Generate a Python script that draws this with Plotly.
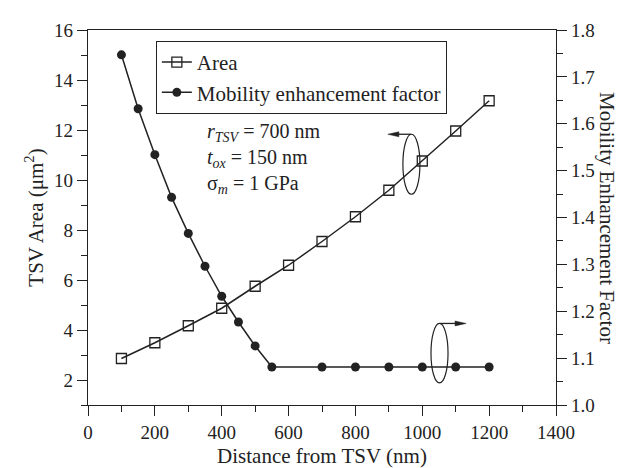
import plotly.graph_objects as go

# distance from TSV (nm)
area_x = [100, 200, 300, 400, 500, 600, 700, 800, 900, 1000, 1100, 1200]
area_y = [2.86, 3.49, 4.17, 4.87, 5.75, 6.59, 7.54, 8.53, 9.59, 10.76, 11.96, 13.17]

mob_x = [100, 150, 200, 250, 300, 350, 400, 450, 500, 550, 700, 800, 900, 1000, 1100, 1200]
mob_y = [1.747, 1.632, 1.534, 1.443, 1.366, 1.296, 1.232, 1.177, 1.126, 1.081,
         1.081, 1.081, 1.081, 1.081, 1.081, 1.081]

params = ["<i>r</i><sub><i>TSV</i></sub> = 700 nm",
          "<i>t</i><sub><i>ox</i></sub> = 150 nm",
          "σ<sub><i>m</i></sub> = 1 GPa"]

FONT = "Liberation Serif"
ink = "#222"

fig = go.Figure()
fig.add_trace(go.Scatter(x=area_x, y=area_y, name="Area", mode="lines+markers",
                         line=dict(color=ink, width=1.5),
                         marker=dict(symbol="square-open", size=10, color=ink,
                                     line=dict(width=1.3))))
fig.add_trace(go.Scatter(x=mob_x, y=mob_y, name="Mobility enhancement factor",
                         mode="lines+markers", yaxis="y2",
                         line=dict(color=ink, width=1.5),
                         marker=dict(symbol="circle", size=9, color=ink)))

axis_common = dict(showline=True, linecolor=ink, linewidth=1.2, ticks="outside",
                   tickcolor=ink, tickwidth=1.2, ticklen=10, showgrid=False,
                   zeroline=False, tickfont=dict(size=19, color=ink))

fig.update_layout(
    width=623, height=468,
    margin=dict(l=80, r=75, t=14, b=70),
    paper_bgcolor="white", plot_bgcolor="white",
    font=dict(family=FONT, color=ink, size=21),
    xaxis=dict(range=[0, 1400], dtick=200, mirror=True,
               minor=dict(dtick=100, ticks="outside", ticklen=6, tickcolor=ink),
               title=dict(text="Distance from TSV (nm)", font=dict(size=21), standoff=6),
               **axis_common),
    yaxis=dict(range=[1, 16], dtick=2, tick0=0,
               minor=dict(dtick=1, ticks="outside", ticklen=6, tickcolor=ink),
               title=dict(text="TSV Area (μm<sup>2</sup>)", font=dict(size=21), standoff=4),
               **axis_common),
    yaxis2=dict(range=[1.0, 1.8], dtick=0.1, tick0=1.0, overlaying="y", side="right",
                tickformat=".1f",
                minor=dict(dtick=0.05, ticks="outside", ticklen=6, tickcolor=ink),
                **axis_common),
    legend=dict(x=0.145, y=0.971, xanchor="left", yanchor="top",
                bordercolor=ink, borderwidth=1, bgcolor="white",
                font=dict(size=21), tracegroupgap=0),
    showlegend=True,
)

# right axis title, reads top to bottom
fig.add_annotation(text="Mobility Enhancement Factor", textangle=90,
                   xref="paper", yref="paper", x=1.14, y=0.5,
                   showarrow=False, font=dict(size=21))

# parameter block
fig.add_annotation(text="<br>".join(params), x=349, y=10.86, xref="x", yref="y",
                   xanchor="left", yanchor="middle", align="left",
                   showarrow=False, font=dict(size=20))

# ellipse + arrow pointing to the left axis
fig.add_shape(type="circle", xref="x", yref="y", x0=942, x1=993, y0=9.43, y1=11.83,
              line=dict(color=ink, width=1.2))
fig.add_shape(type="line", xref="x", yref="y", x0=967, x1=925, y0=11.83, y1=11.83,
              line=dict(color=ink, width=1.3))
fig.add_shape(type="path", xref="x", yref="y", fillcolor=ink, line=dict(color=ink, width=0.5),
              path="M 897 11.83 L 930 11.93 L 930 11.73 Z")

# ellipse + arrow pointing to the right axis
fig.add_shape(type="circle", xref="x", yref="y2", x0=1026, x1=1077, y0=1.047, y1=1.174,
              line=dict(color=ink, width=1.2))
fig.add_shape(type="line", xref="x", yref="y2", x0=1052, x1=1103, y0=1.174, y1=1.174,
              line=dict(color=ink, width=1.3))
fig.add_shape(type="path", xref="x", yref="y2", fillcolor=ink, line=dict(color=ink, width=0.5),
              path="M 1131 1.174 L 1098 1.1792 L 1098 1.1688 Z")

fig.write_html("out.html")
